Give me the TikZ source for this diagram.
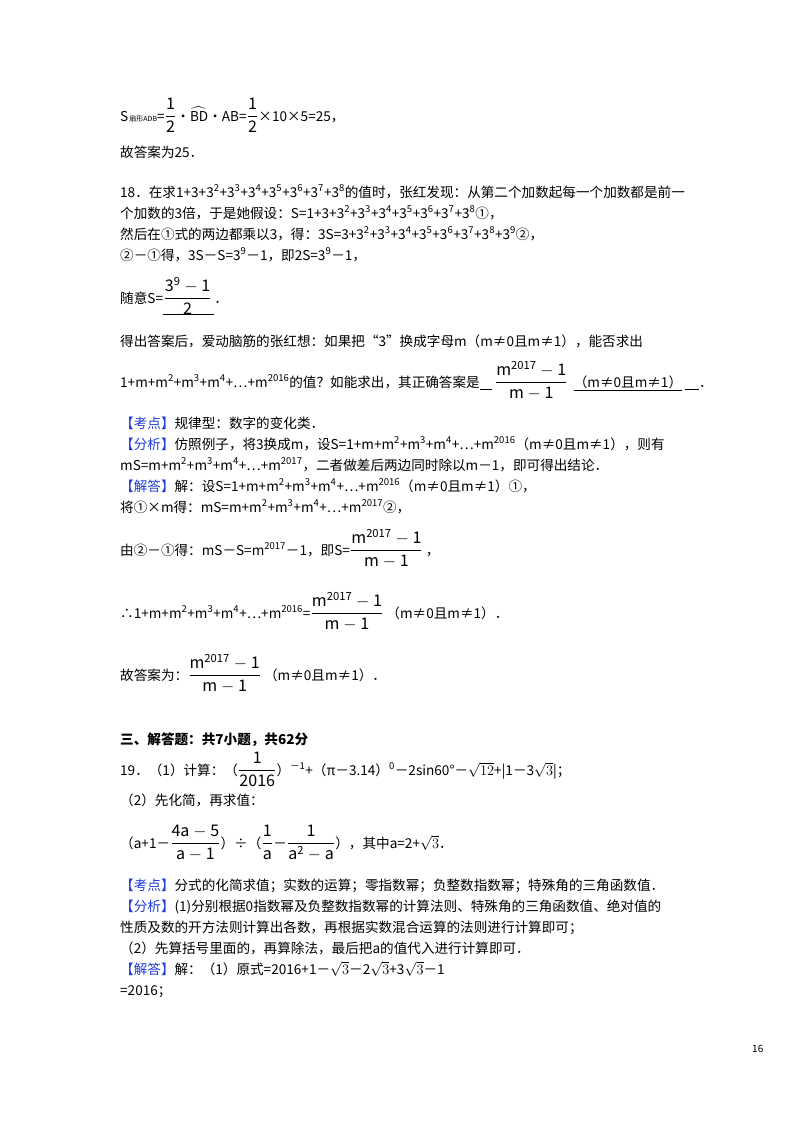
\documentclass[tikz,border=0pt]{standalone}
\usepackage{amsmath}
\usepackage{graphicx}
\usepackage{fontspec}
\setmainfont{Noto Sans CJK SC}
\definecolor{kblue}{RGB}{30,60,220}
\newcommand{\kd}[1]{\textcolor{kblue}{【#1】}}
\newcommand{\su}[1]{\textsuperscript{#1}}
\newcommand{\fr}[2]{\scalebox{1.18}{$\dfrac{\mathrm{#1}}{\mathrm{#2}}$}}
\newcommand{\mfr}{\fr{m^{2017}-1}{m-1}}
\begin{document}
\begin{tikzpicture}[x=1pt,y=-1pt,every node/.style={anchor=base west,inner sep=0pt,font=\fontsize{13.6}{16}\selectfont}]
\useasboundingbox (0,0) rectangle (800,1132);
\fill[white] (0,0) rectangle (800,1132);
\node (l1) at (120,121) {S{\fontsize{7}{8}\selectfont\,扇形ADB}=\fr{1}{2}•$\widehat{\mathrm{BD}}$•AB=\fr{1}{2}×10×5=25，};
\node (l2) at (120,157) {故答案为25．};
\node (l3) at (120,197) {18．在求1+3+3\su2+3\su3+3\su4+3\su5+3\su6+3\su7+3\su8的值时，张红发现：从第二个加数起每一个加数都是前一};
\node (l4) at (120,218) {个加数的3倍，于是她假设：S=1+3+3\su2+3\su3+3\su4+3\su5+3\su6+3\su7+3\su8①，};
\node (l5) at (120,239) {然后在①式的两边都乘以3，得：3S=3+3\su2+3\su3+3\su4+3\su5+3\su6+3\su7+3\su8+3\su9②，};
\node (l6) at (120,260) {②－①得，3S－S=3\su9－1，即2S=3\su9－1，};
\node (l7) at (120,303) {随意S=};
\node[anchor=base west] (f7) at (l7.base east) {\fr{3^9-1}{2}\,};
\node (d7) at (f7.base east) {．};
\draw ([yshift=1pt]f7.south west) -- ([yshift=1pt]f7.south east);
\node (l8) at (120,346) {得出答案后，爱动脑筋的张红想：如果把“3”换成字母m（m≠0且m≠1），能否求出};
\node (l9) at (120,387) {1+m+m\su2+m\su3+m\su4+…+m\su{2016}的值？如能求出，其正确答案是\underline{\hspace{12pt}}\ \mfr\ \ \underline{（m≠0且m≠1）}\ \underline{\hspace{14pt}}．};
\node (a1) at (120,428) {\kd{考点}规律型：数字的变化类．};
\node (a2) at (120,449) {\kd{分析}仿照例子，将3换成m，设S=1+m+m\su2+m\su3+m\su4+…+m\su{2016}（m≠0且m≠1），则有};
\node (a3) at (120,470) {mS=m+m\su2+m\su3+m\su4+…+m\su{2017}，二者做差后两边同时除以m－1，即可得出结论．};
\node (a4) at (120,491) {\kd{解答}解：设S=1+m+m\su2+m\su3+m\su4+…+m\su{2016}（m≠0且m≠1）①，};
\node (a5) at (120,512) {将①×m得：mS=m+m\su2+m\su3+m\su4+…+m\su{2017}②，};
\node (a6) at (120,555) {由②－①得：mS－S=m\su{2017}－1，即S=\mfr\ ，};
\node (a7) at (120,618) {∴1+m+m\su2+m\su3+m\su4+…+m\su{2016}=\mfr\ （m≠0且m≠1）．};
\node (a8) at (120,680) {故答案为：\mfr\ （m≠0且m≠1）．};
\node (s3) at (120,744) {\textbf{三、解答题：共7小题，共62分}};
\node (q1) at (120,775) {19．（1）计算：（\fr{1}{2016}）\su{－1}+（π－3.14）\su0－2sin60°－$\sqrt{12}$+|1－3$\sqrt{3}$|；};
\node (q2) at (120,805) {（2）先化简，再求值：};
\node (q3) at (120,848) {（a+1－\fr{4a-5}{a-1}）÷（\fr{1}{a}－\fr{1}{a^2-a}），其中a=2+$\sqrt{3}$．};
\node (b1) at (120,890) {\kd{考点}分式的化简求值；实数的运算；零指数幂；负整数指数幂；特殊角的三角函数值．};
\node (b2) at (120,911) {\kd{分析}(1)分别根据0指数幂及负整数指数幂的计算法则、特殊角的三角函数值、绝对值的};
\node (b3) at (120,932) {性质及数的开方法则计算出各数，再根据实数混合运算的法则进行计算即可；};
\node (b4) at (120,953) {（2）先算括号里面的，再算除法，最后把a的值代入进行计算即可．};
\node (b5) at (120,974) {\kd{解答}解：（1）原式=2016+1－$\sqrt{3}$－2$\sqrt{3}$+3$\sqrt{3}$－1};
\node (b6) at (120,995) {=2016；};
\node[font=\fontsize{10}{12}\selectfont] (pg) at (752,1052) {16};
\end{tikzpicture}
\end{document}
